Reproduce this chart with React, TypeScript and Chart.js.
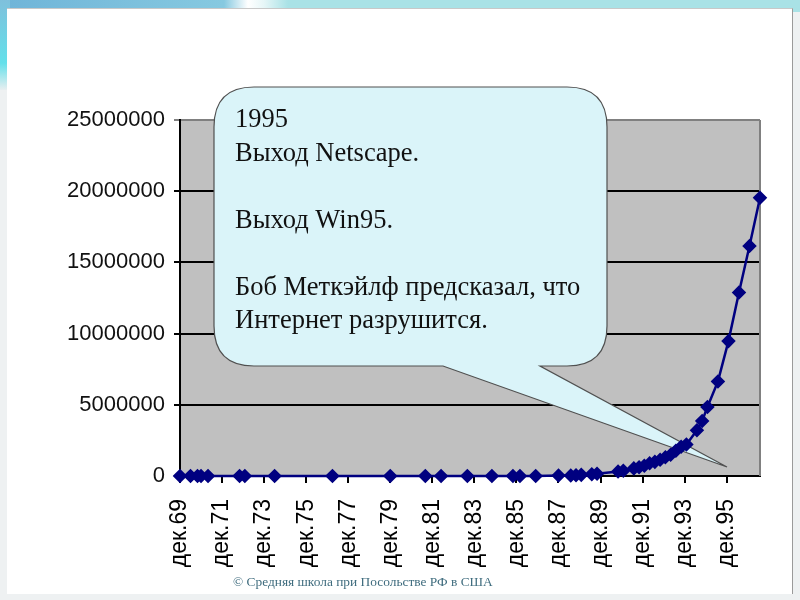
import { useEffect, useRef } from 'react';
import { Chart, registerables } from 'chart.js';

Chart.register(...registerables);

// Internet host count (Hobbes' Internet Timeline), date as MM/YY
const hostDates = [
  '12/69', '06/70', '10/70', '12/70', '04/71', '10/72', '01/73', '06/74', '03/77', '12/79',
  '08/81', '05/82', '08/83', '10/84', '10/85', '02/86', '11/86', '12/87', '07/88', '10/88',
  '01/89', '07/89', '10/89', '10/90', '01/91', '07/91', '10/91', '01/92', '04/92', '07/92',
  '10/92', '01/93', '04/93', '07/93', '10/93', '01/94', '07/94', '10/94', '01/95', '07/95',
  '01/96', '07/96', '01/97', '07/97',
];
const hostCounts = [
  4, 9, 11, 13, 23, 31, 35, 62, 111, 188,
  213, 235, 562, 1024, 1961, 2308, 5089, 28174, 33000, 56000,
  80000, 130000, 159000, 313000, 376000, 535000, 617000, 727000, 890000, 992000,
  1136000, 1313000, 1486000, 1776000, 2056000, 2217000, 3212000, 3864000, 4852000, 6642000,
  9472000, 12881000, 16146000, 19540000,
];
const xTickLabels = [
  'дек.69', 'дек.71', 'дек.73', 'дек.75', 'дек.77', 'дек.79', 'дек.81',
  'дек.83', 'дек.85', 'дек.87', 'дек.89', 'дек.91', 'дек.93', 'дек.95',
];
const yTicks = [0, 5000000, 10000000, 15000000, 20000000, 25000000];

const calloutLines = [
  '1995',
  'Выход Netscape.',
  '',
  'Выход Win95.',
  '',
  'Боб Меткэйлф предсказал, что',
  'Интернет разрушится.',
];
const footerText = '© Средняя школа при Посольстве РФ в США';

// months since Dec 1969
const toMonth = (mmyy: string) => {
  const [mm, yy] = mmyy.split('/').map(Number);
  return (yy - 69) * 12 + (mm - 12);
};
const labelMonth = (label: string) => (Number(label.slice(-2)) - 69) * 12;

const points = hostDates.map((d, i) => ({ x: toMonth(d), y: hostCounts[i] }));

const plotBackground = {
  id: 'plotBackground',
  beforeDraw(chart: Chart) {
    const { ctx, chartArea: a } = chart;
    ctx.save();
    ctx.fillStyle = '#c0c0c0';
    ctx.fillRect(a.left, a.top, a.right - a.left, a.bottom - a.top);
    ctx.restore();
  },
};

// speech bubble shape (text is placed over it as html)
const callout = {
  id: 'callout',
  beforeDatasetsDraw(chart: Chart) {
    const { ctx, chartArea: a } = chart;
    ctx.save();
    // right border of plot area
    ctx.strokeStyle = '#808080';
    ctx.lineWidth = 2;
    ctx.beginPath();
    ctx.moveTo(a.right, a.top);
    ctx.lineTo(a.right, a.bottom);
    ctx.stroke();

    const l = 214, t = 87, r = 607, b = 366, rad = 40;
    ctx.beginPath();
    ctx.moveTo(l + rad, t);
    ctx.lineTo(r - rad, t);
    ctx.quadraticCurveTo(r, t, r, t + rad);
    ctx.lineTo(r, b - rad);
    ctx.quadraticCurveTo(r, b, r - rad, b);
    ctx.lineTo(540, b);
    ctx.lineTo(727, 467);
    ctx.lineTo(443, b);
    ctx.lineTo(l + rad, b);
    ctx.quadraticCurveTo(l, b, l, b - rad);
    ctx.lineTo(l, t + rad);
    ctx.quadraticCurveTo(l, t, l + rad, t);
    ctx.closePath();
    ctx.fillStyle = '#daf4f9';
    ctx.fill();
    ctx.strokeStyle = '#505050';
    ctx.lineWidth = 1.2;
    ctx.stroke();
    ctx.restore();
  },
};

const HostChart = () => {
  const canvasRef = useRef<HTMLCanvasElement | null>(null);
  const chartRef = useRef<Chart | null>(null);

  useEffect(() => {
    if (!canvasRef.current) return;
    chartRef.current?.destroy();

    const family = '"Liberation Sans", Arial, sans-serif';

    chartRef.current = new Chart(canvasRef.current, {
      type: 'line',
      data: {
        datasets: [
          {
            data: points,
            borderColor: '#000080',
            backgroundColor: '#000080',
            borderWidth: 2.5,
            pointStyle: 'rectRot',
            pointRadius: 5.5,
            pointBackgroundColor: '#000080',
            pointBorderColor: '#000080',
            tension: 0,
            clip: false,
          },
        ],
      },
      options: {
        responsive: false,
        animation: false,
        events: [],
        layout: { padding: { top: 120, right: 40, left: 0, bottom: 0 } },
        plugins: { legend: { display: false }, tooltip: { enabled: false } },
        scales: {
          x: {
            type: 'linear',
            min: 0,
            max: points[points.length - 1].x,
            afterBuildTicks: (scale: any) => {
              scale.ticks = xTickLabels.map((lbl) => ({ value: labelMonth(lbl) }));
            },
            afterFit: (scale: any) => {
              scale.height = 124;
            },
            ticks: {
              callback: (_v: any, i: number) => xTickLabels[i],
              minRotation: 90,
              maxRotation: 90,
              autoSkip: false,
              padding: 16,
              color: '#000',
              font: { family, size: 23 },
            },
            grid: {
              drawOnChartArea: false,
              drawTicks: true,
              tickLength: 7,
              color: '#000',
              lineWidth: 2,
            },
            border: { color: '#000', width: 2 },
          },
          y: {
            min: 0,
            max: 25000000,
            afterBuildTicks: (scale: any) => {
              scale.ticks = yTicks.map((v) => ({ value: v }));
            },
            afterFit: (scale: any) => {
              scale.width = 180;
            },
            ticks: {
              callback: (v: any) => String(v),
              padding: 9,
              color: '#111',
              font: { family, size: 22 },
            },
            grid: {
              color: (c: any) => (c.tick && c.tick.value === 25000000 ? '#808080' : '#000'),
              lineWidth: 2,
              tickLength: 6,
            },
            border: { color: '#000', width: 2 },
          },
        },
      },
      plugins: [plotBackground, callout],
    });

    return () => chartRef.current?.destroy();
  }, []);

  return (
    <canvas
      ref={canvasRef}
      width={800}
      height={600}
      style={{ position: 'absolute', left: 0, top: 0, display: 'block' }}
    />
  );
};

export default function App() {
  return (
    <div
      style={{
        position: 'fixed',
        left: 0,
        top: 0,
        width: 800,
        height: 600,
        overflow: 'hidden',
        background: '#eef1f2',
      }}
    >
      <div
        style={{
          position: 'absolute',
          left: 0,
          top: 0,
          width: 800,
          height: 12,
          background:
            'linear-gradient(90deg, #6fb4d8 0%, #86c9e0 28%, #ffffff 31%, #e6f6f7 33%, #a9e2e6 36%, #a9e2e6 100%)',
        }}
      />
      <div
        style={{
          position: 'absolute',
          left: 0,
          top: 0,
          width: 10,
          height: 90,
          background: 'linear-gradient(180deg, #7fc0dc 0%, #63e0ea 70%, #e8eef0 100%)',
        }}
      />
      <div
        style={{
          position: 'absolute',
          left: 7,
          top: 8,
          width: 785,
          height: 585,
          background: '#fff',
          borderRight: '1px solid #9a9a9a',
          borderTop: '1px solid #c8c8c8',
        }}
      />
      <HostChart />
      <div
        style={{
          position: 'absolute',
          left: 235,
          top: 102,
          fontFamily: '"Liberation Serif", "Times New Roman", serif',
          fontSize: 26.5,
          lineHeight: '33.5px',
          color: '#111',
          whiteSpace: 'pre',
        }}
      >
        {calloutLines.map((line, i) => (
          <div key={i}>{line || '\u00a0'}</div>
        ))}
      </div>
      <div
        style={{
          position: 'absolute',
          left: 233,
          top: 574,
          fontFamily: '"Liberation Serif", "Times New Roman", serif',
          fontSize: 13.4,
          lineHeight: '16px',
          color: '#3f6c7e',
          whiteSpace: 'pre',
        }}
      >
        {footerText}
      </div>
    </div>
  );
}
